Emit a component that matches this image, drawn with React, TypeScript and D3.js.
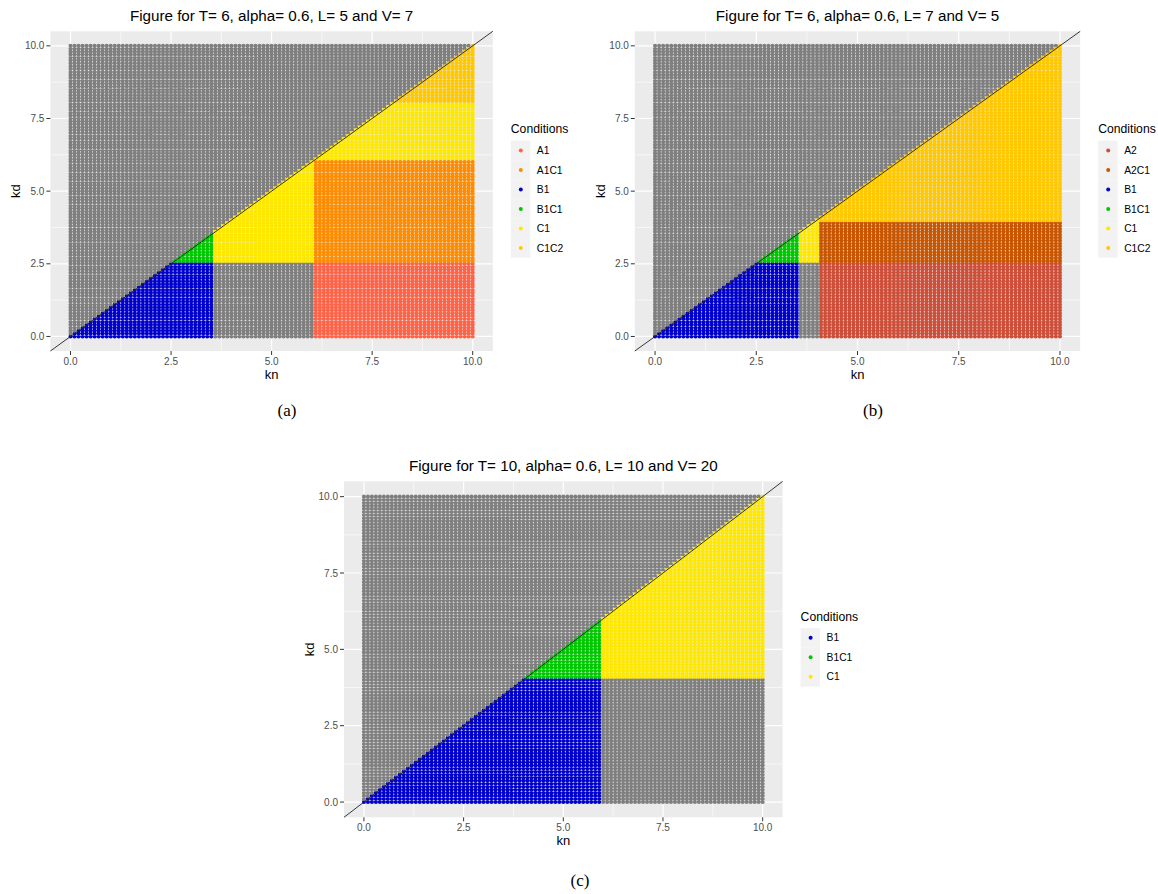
import React from 'react';
import * as d3 from 'd3';

// grid of (kn, kd) evaluated in every panel: seq(0, 10, by = 0.1)
const knGrid = d3.range(0, 101).map((i) => i / 10);
const kdGrid = d3.range(0, 101).map((i) => i / 10);

const axisTicks = [0, 2.5, 5, 7.5, 10];
const minorTicks = [1.25, 3.75, 6.25, 8.75];
const tickLabels = ['0.0', '2.5', '5.0', '7.5', '10.0'];

const titles = [
  'Figure for T= 6, alpha= 0.6, L= 5 and V= 7',
  'Figure for T= 6, alpha= 0.6, L= 7 and V= 5',
  'Figure for T= 10, alpha= 0.6, L= 10 and V= 20',
];
const subLabels = ['(a)', '(b)', '(c)'];

const conditionsA = ['A1', 'A1C1', 'B1', 'B1C1', 'C1', 'C1C2'];
const conditionsB = ['A2', 'A2C1', 'B1', 'B1C1', 'C1', 'C1C2'];
const conditionsC = ['B1', 'B1C1', 'C1'];

// regions below the diagonal (kd <= kn); anything else is NA
const regionsA = [
  { cond: 'B1', kn: [0, 3.5], kd: [0, 2.5] },
  { cond: 'B1C1', kn: [0, 3.5], kd: [2.6, 10] },
  { cond: 'C1', kn: [3.6, 6.0], kd: [2.6, 10] },
  { cond: 'A1', kn: [6.1, 10], kd: [0, 2.5] },
  { cond: 'A1C1', kn: [6.1, 10], kd: [2.6, 6.0] },
  { cond: 'C1', kn: [6.1, 10], kd: [6.1, 8.0] },
  { cond: 'C1C2', kn: [6.1, 10], kd: [8.1, 10] },
];
const regionsB = [
  { cond: 'B1', kn: [0, 3.5], kd: [0, 2.5] },
  { cond: 'B1C1', kn: [0, 3.5], kd: [2.6, 10] },
  { cond: 'C1', kn: [3.6, 4.0], kd: [2.6, 10] },
  { cond: 'A2', kn: [4.1, 10], kd: [0, 2.5] },
  { cond: 'A2C1', kn: [4.1, 10], kd: [2.6, 3.9] },
  { cond: 'C1C2', kn: [4.1, 10], kd: [4.0, 10] },
];
const regionsC = [
  { cond: 'B1', kn: [0, 5.9], kd: [0, 4.0] },
  { cond: 'B1C1', kn: [0, 5.9], kd: [4.1, 10] },
  { cond: 'C1', kn: [6.0, 10], kd: [4.1, 10] },
];

const conditionColors: Record<string, string> = {
  A1: '#FF6347',
  A1C1: '#FF8C00',
  A2: '#CD4F39',
  A2C1: '#C85500',
  B1: '#0000CD',
  B1C1: '#00C800',
  C1: '#FFE800',
  C1C2: '#FFC800',
};
const naColor = '#7F7F7F';

type Region = { cond: string; kn: number[]; kd: number[] };

const eps = 1e-9;
function classify(kn: number, kd: number, regions: Region[]) {
  if (kd > kn + eps) return 'NA';
  for (const r of regions) {
    if (kn >= r.kn[0] - eps && kn <= r.kn[1] + eps && kd >= r.kd[0] - eps && kd <= r.kd[1] + eps) {
      return r.cond;
    }
  }
  return 'NA';
}

const font = 'Liberation Sans, Arial, sans-serif';

type PanelProps = {
  title: string;
  sub: string;
  conditions: string[];
  regions: Region[];
  left: number;
  right: number;
  top: number;
  bottom: number;
  subX: number;
  subY: number;
};

function Panel({ title, sub, conditions, regions, left, right, top, bottom, subX, subY }: PanelProps) {
  const x = d3.scaleLinear().domain([-0.5, 10.5]).range([left, right]);
  const y = d3.scaleLinear().domain([-0.5, 10.5]).range([bottom, top]);
  const r = 2.05;

  // one path per condition
  const paths: Record<string, d3.Path> = {};
  knGrid.forEach((kn) => {
    kdGrid.forEach((kd) => {
      const c = classify(kn, kd, regions);
      if (!paths[c]) paths[c] = d3.path();
      const p = paths[c];
      const cx = x(kn);
      const cy = y(kd);
      p.moveTo(cx + r, cy);
      p.arc(cx, cy, r, 0, Math.PI * 2);
    });
  });

  const cx = (left + right) / 2;
  const cy = (top + bottom) / 2;
  const keyH = 19.5;
  const legendH = 20 + conditions.length * keyH;
  const legTop = cy - legendH / 2;
  const legX = right + 18;

  return (
    <g>
      <text x={cx} y={top - 10} textAnchor="middle" fontFamily={font} fontSize={15.2} fill="#000">
        {title}
      </text>
      <rect x={left} y={top} width={right - left} height={bottom - top} fill="#EBEBEB" />
      {minorTicks.map((t) => (
        <g key={'m' + t}>
          <line x1={x(t)} x2={x(t)} y1={top} y2={bottom} stroke="#fff" strokeWidth={0.6} />
          <line x1={left} x2={right} y1={y(t)} y2={y(t)} stroke="#fff" strokeWidth={0.6} />
        </g>
      ))}
      {axisTicks.map((t) => (
        <g key={'M' + t}>
          <line x1={x(t)} x2={x(t)} y1={top} y2={bottom} stroke="#fff" strokeWidth={1.2} />
          <line x1={left} x2={right} y1={y(t)} y2={y(t)} stroke="#fff" strokeWidth={1.2} />
        </g>
      ))}
      {Object.keys(paths).map((c) => (
        <path key={c} d={paths[c].toString()} fill={c === 'NA' ? naColor : conditionColors[c]} />
      ))}
      <line x1={x(-0.5)} y1={y(-0.5)} x2={x(10.5)} y2={y(10.5)} stroke="#222" strokeWidth={0.9} />
      {axisTicks.map((t, i) => (
        <g key={'t' + t}>
          <line x1={x(t)} x2={x(t)} y1={bottom} y2={bottom + 4} stroke="#333" strokeWidth={1} />
          <text x={x(t)} y={bottom + 13.5} textAnchor="middle" fontFamily={font} fontSize={10} fill="#4D4D4D">
            {tickLabels[i]}
          </text>
          <line x1={left - 4} x2={left} y1={y(t)} y2={y(t)} stroke="#333" strokeWidth={1} />
          <text x={left - 6} y={y(t) + 3.6} textAnchor="end" fontFamily={font} fontSize={10} fill="#4D4D4D">
            {tickLabels[i]}
          </text>
        </g>
      ))}
      <text x={cx} y={bottom + 28} textAnchor="middle" fontFamily={font} fontSize={13} fill="#000">
        kn
      </text>
      <text
        transform={`translate(${left - 30},${cy}) rotate(-90)`}
        textAnchor="middle"
        fontFamily={font}
        fontSize={13}
        fill="#000"
      >
        kd
      </text>
      <text x={legX} y={legTop + 10.5} fontFamily={font} fontSize={12.2} fill="#000">
        Conditions
      </text>
      {conditions.map((c, i) => {
        const ky = legTop + 18 + i * keyH;
        return (
          <g key={c}>
            <rect x={legX} y={ky} width={19.5} height={keyH} fill="#F2F2F2" />
            <circle cx={legX + 10} cy={ky + keyH / 2} r={2} fill={conditionColors[c]} />
            <text x={legX + 26} y={ky + keyH / 2 + 3.6} fontFamily={font} fontSize={10.3} fill="#000">
              {c}
            </text>
          </g>
        );
      })}
      <text x={subX} y={subY} textAnchor="middle" fontFamily="Liberation Serif, serif" fontSize={17} fill="#000">
        {sub}
      </text>
    </g>
  );
}

export default function App() {
  return (
    <svg
      width={1158}
      height={894}
      style={{ position: 'absolute', left: 0, top: 0, background: '#fff' }}
    >
      <Panel
        title={titles[0]}
        sub={subLabels[0]}
        conditions={conditionsA}
        regions={regionsA}
        left={50.4}
        right={492.8}
        top={31.3}
        bottom={351}
        subX={287}
        subY={416}
      />
      <Panel
        title={titles[1]}
        sub={subLabels[1]}
        conditions={conditionsB}
        regions={regionsB}
        left={634.8}
        right={1080.2}
        top={31.3}
        bottom={351}
        subX={873}
        subY={416}
      />
      <Panel
        title={titles[2]}
        sub={subLabels[2]}
        conditions={conditionsC}
        regions={regionsC}
        left={344}
        right={782.6}
        top={481.4}
        bottom={817.3}
        subX={580}
        subY={886}
      />
    </svg>
  );
}
